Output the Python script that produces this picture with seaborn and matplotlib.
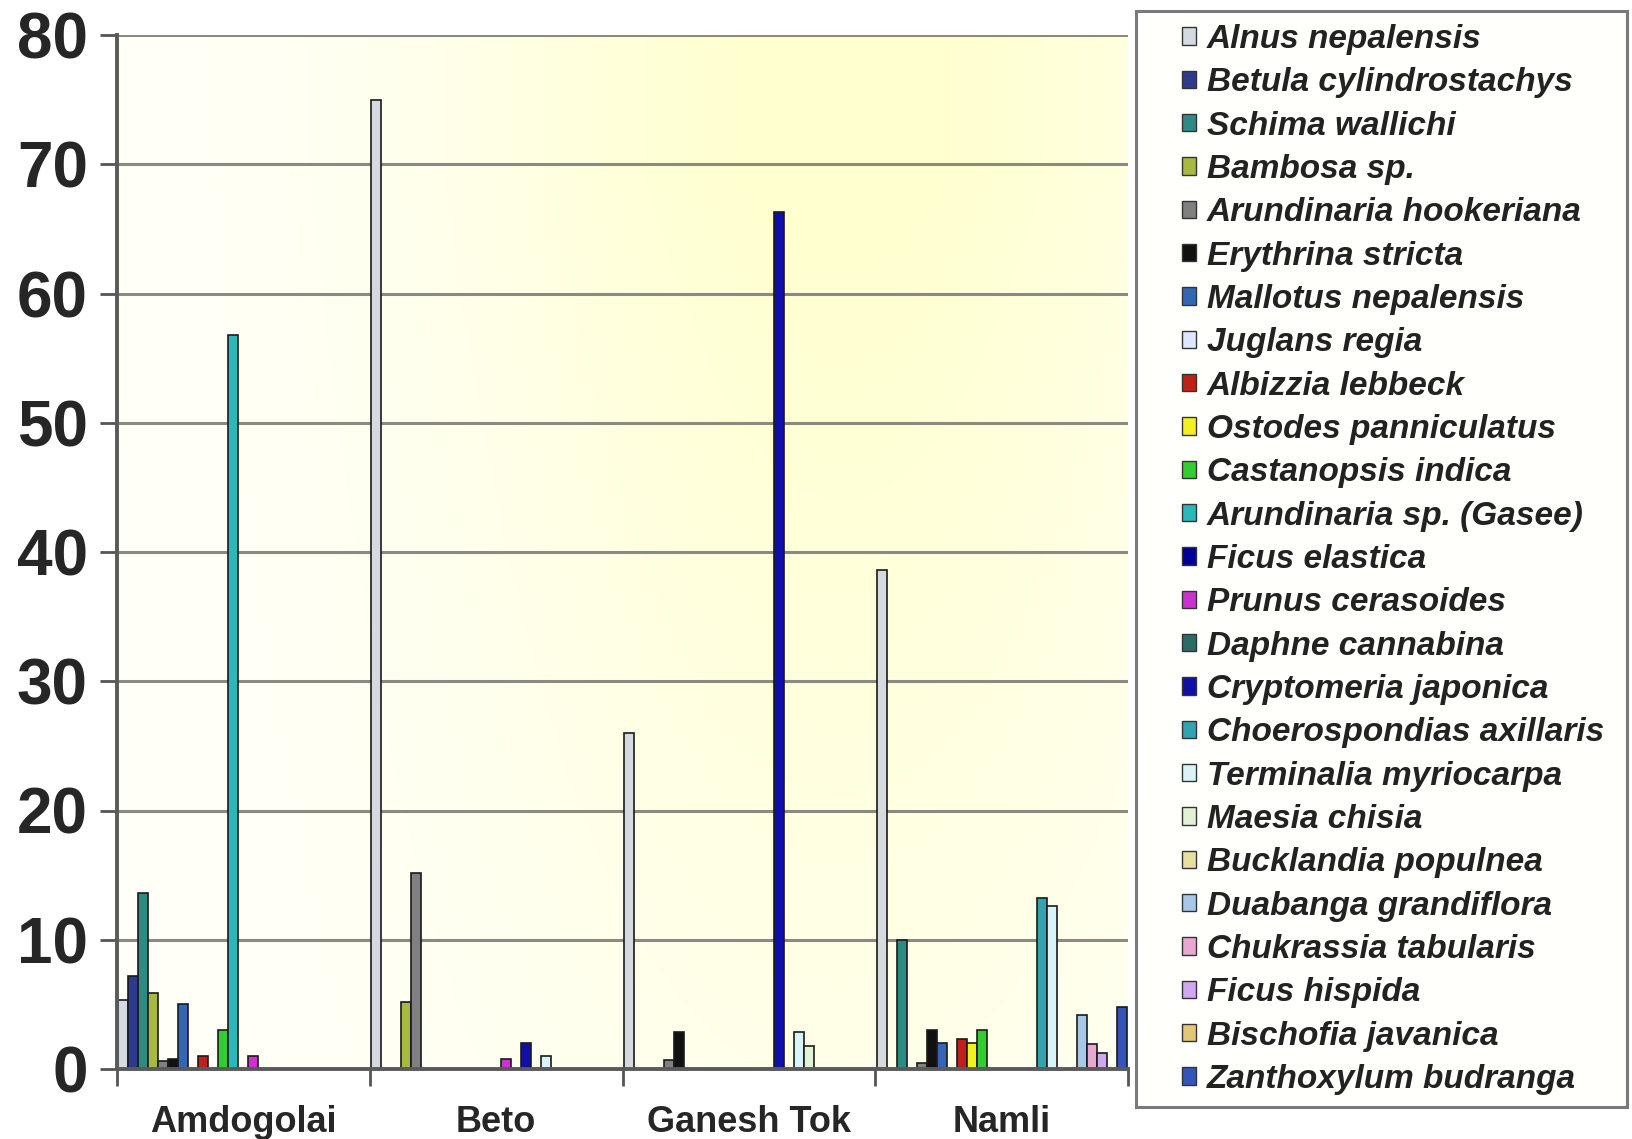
import numpy as np
import pandas as pd
import matplotlib
matplotlib.use("Agg")
import matplotlib.pyplot as plt
from matplotlib.patches import Patch, Rectangle
from matplotlib.colors import to_rgb
import seaborn as sns

# Sites along the category axis
sites = ["Amdogolai", "Beto", "Ganesh Tok", "Namli"]

# Species (series) in legend order
species = [
    "Alnus nepalensis", "Betula cylindrostachys", "Schima wallichi", "Bambosa sp.",
    "Arundinaria hookeriana", "Erythrina stricta", "Mallotus nepalensis", "Juglans regia",
    "Albizzia lebbeck", "Ostodes panniculatus", "Castanopsis indica",
    "Arundinaria sp. (Gasee)", "Ficus elastica", "Prunus cerasoides", "Daphne cannabina",
    "Cryptomeria japonica", "Choerospondias axillaris", "Terminalia myriocarpa",
    "Maesia chisia", "Bucklandia populnea", "Duabanga grandiflora", "Chukrassia tabularis",
    "Ficus hispida", "Bischofia javanica", "Zanthoxylum budranga",
]

# Values for each site, one per species (same order as above)
amdogolai = [5.3, 7.2, 13.6, 5.9, 0.6, 0.8, 5.0, 0.0, 1.0, 0.0, 3.0, 56.8, 0.0, 1.0,
             0.0, 0.0, 0.0, 0.0, 0.0, 0.0, 0.0, 0.0, 0.0, 0.0, 0.0]
beto = [75.0, 0.0, 0.0, 5.2, 15.2, 0.0, 0.0, 0.0, 0.0, 0.0, 0.0, 0.0, 0.0, 0.8,
        0.0, 2.0, 0.0, 1.0, 0.0, 0.0, 0.0, 0.0, 0.0, 0.0, 0.0]
ganesh_tok = [26.0, 0.0, 0.0, 0.0, 0.7, 2.9, 0.0, 0.0, 0.0, 0.0, 0.0, 0.0, 0.0, 0.0,
              0.0, 66.3, 0.0, 2.9, 1.8, 0.0, 0.0, 0.0, 0.0, 0.0, 0.0]
namli = [38.6, 0.0, 10.0, 0.0, 0.5, 3.0, 2.0, 0.0, 2.3, 2.0, 3.0, 0.0, 0.0, 0.0,
         0.0, 0.0, 13.2, 12.6, 0.0, 0.0, 4.2, 1.9, 1.2, 0.0, 4.8]

colors = [
    "#D4DADF", "#2E3A8C", "#2E8B84", "#A8B840", "#808080", "#111111", "#3366B3",
    "#DDE8FF", "#C0201A", "#F2F020", "#33CC33", "#2BB8B8", "#000099", "#CC33CC",
    "#2F6B66", "#1010A8", "#33A3B0", "#D8F4F8", "#E2F2D4", "#E8E0A0", "#A8C8E8",
    "#E8A8D0", "#D0A8F0", "#E0C878", "#3355BB",
]

yticks = [0, 10, 20, 30, 40, 50, 60, 70, 80]

values = {"Amdogolai": amdogolai, "Beto": beto, "Ganesh Tok": ganesh_tok, "Namli": namli}
df = pd.DataFrame(
    [(s, sp, v) for s in sites for sp, v in zip(species, values[s])],
    columns=["site", "species", "value"],
)

sns.set_theme(style="white")
plt.rcParams["font.family"] = ["Liberation Sans", "DejaVu Sans"]

W, H = 1633, 1139
fig = plt.figure(figsize=(W / 100, H / 100), dpi=100)
fig.patch.set_facecolor("white")

x0, x1, ytop, ybot = 117, 1128, 35, 1069
ax = fig.add_axes([x0 / W, 1 - ybot / H, (x1 - x0) / W, (ybot - ytop) / H])

# Soft white-to-cream backdrop: palest on the left and near the baseline,
# warmest toward the middle-right of the plot
gx, gy = np.meshgrid(np.linspace(0, 1, 300), np.linspace(0, 1, 300))
tx = np.exp(-((gx - 0.72) / 0.38) ** 2)
ty = np.clip(0.35 + 0.75 * gy, 0, 1)
t = np.clip(tx * ty * 1.05, 0, 1)
c0, c1 = np.array(to_rgb("#FFFFF8")), np.array(to_rgb("#FFFFD0"))
img = c0[None, None, :] * (1 - t[..., None]) + c1[None, None, :] * t[..., None]
ax.imshow(img, extent=[-0.5, 3.5, 0, 80], origin="lower", aspect="auto", zorder=0)

sns.barplot(
    data=df, x="site", y="value", hue="species", order=sites, hue_order=species,
    palette=colors, width=0.99, dodge=True, errorbar=None, legend=False,
    edgecolor="#1a1a1a", linewidth=1.2, saturation=1, ax=ax, zorder=3,
)

ax.set_xlim(-0.5, 3.5)
ax.set_ylim(0, 80)
ax.set_yticks(yticks)
ax.set_yticklabels([str(v) for v in yticks], fontsize=46, fontweight="bold")
ax.yaxis.grid(True, color="#8a8a82", linewidth=2.2, zorder=1)
ax.set_axisbelow(True)
ax.set_xlabel("")
ax.set_ylabel("")

ax.set_xticks(range(len(sites)))
ax.set_xticklabels(sites, fontsize=26, fontweight="bold")
ax.set_xticks([-0.5, 0.5, 1.5, 2.5, 3.5], minor=True)
ax.tick_params(axis="x", which="major", length=0, pad=26)
ax.tick_params(axis="x", which="minor", length=12, width=2, color="#555555",
               direction="out", bottom=True)
ax.tick_params(axis="y", length=12, width=2, color="#555555", direction="out",
               left=True, pad=9)

for side in ["top", "right"]:
    ax.spines[side].set_visible(False)
for side in ["left", "bottom"]:
    ax.spines[side].set_color("#5a5a5a")
    ax.spines[side].set_linewidth(2.8)
    ax.spines[side].set_zorder(5)

# Legend box with framed border
lx0, lx1, ly0, ly1 = 1136, 1627, 11, 1107
fig.patches.append(Rectangle((lx0 / W, 1 - ly1 / H), (lx1 - lx0) / W, (ly1 - ly0) / H,
                             transform=fig.transFigure, facecolor="#FFFFFC",
                             edgecolor="#7a7a7a", linewidth=2.2, zorder=0))
handles = [Patch(facecolor=c, edgecolor="#333333", linewidth=1.0) for c in colors]
leg = fig.legend(
    handles, species, loc="upper left", bbox_to_anchor=(1182 / W, 1 - 24 / H),
    frameon=False, prop={"style": "italic", "weight": "bold", "size": 24},
    handlelength=0.42, handleheight=0.42, handletextpad=0.33,
    labelspacing=0.37, borderpad=0, borderaxespad=0,
)
for txt in leg.get_texts():
    txt.set_color("#222222")

fig.savefig("out.png", dpi=100, facecolor="white")
